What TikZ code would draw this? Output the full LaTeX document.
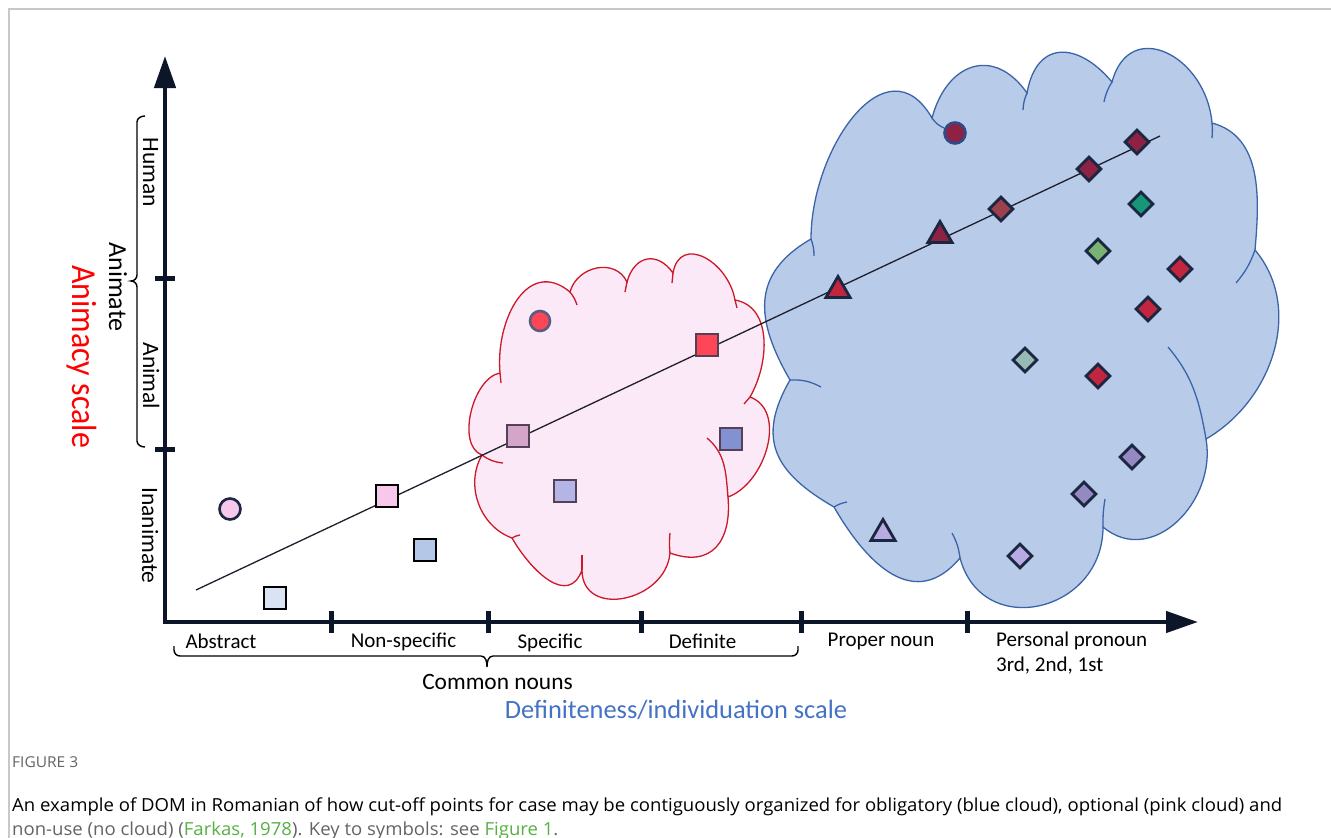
\documentclass[tikz,border=0pt]{standalone}
\usepackage{fontspec}
\usepackage{graphicx}
\setmainfont{Carlito}
\newfontfamily\capfont[FakeStretch=0.85]{Open Sans}
\usetikzlibrary{arrows.meta,shapes.geometric}
\definecolor{axisc}{RGB}{12,22,40}
\definecolor{framegray}{RGB}{200,200,200}
\definecolor{bluefill}{RGB}{184,203,232}
\definecolor{blueline}{RGB}{59,100,168}
\definecolor{pinkfill}{RGB}{251,233,247}
\definecolor{pinkline}{RGB}{204,24,40}
\definecolor{navy}{RGB}{27,38,64}
\definecolor{pinkstroke}{RGB}{85,65,85}
\definecolor{capgray}{RGB}{100,100,100}
\definecolor{capgreen}{RGB}{86,176,66}
\definecolor{defblue}{RGB}{68,114,196}
\definecolor{cPink}{RGB}{247,200,236}
\definecolor{cPale}{RGB}{218,227,243}
\definecolor{cLightBlue}{RGB}{180,199,231}
\definecolor{cRedBright}{RGB}{255,70,86}
\definecolor{cMauve}{RGB}{212,165,201}
\definecolor{cPeri}{RGB}{131,145,210}
\definecolor{cLav}{RGB}{180,181,230}
\definecolor{cDark}{RGB}{141,34,69}
\definecolor{cBrown}{RGB}{155,64,79}
\definecolor{cTeal}{RGB}{23,151,122}
\definecolor{cGreen}{RGB}{121,179,116}
\definecolor{cCrimson}{RGB}{194,37,63}
\definecolor{cGrayTeal}{RGB}{150,186,180}
\definecolor{cPurple}{RGB}{148,137,192}
\definecolor{cLilac}{RGB}{183,171,226}
\newsavebox\capboxA
\newlength\capw
\tikzset{
  axisline/.style={draw=axisc, line width=4.5pt},
  tickmark/.style={draw=axisc, line width=5pt},
  bracepath/.style={draw=black, line width=1.4pt},
  lbl/.style={font=\fontsize{21}{25}\selectfont, inner sep=0pt},
  grouplbl/.style={font=\fontsize{23.4}{28}\selectfont, inner sep=0pt},
  vlbl/.style={font=\fontsize{23.5}{28}\selectfont, inner sep=0pt, rotate=-90, anchor=base},
  bluecloud/.style={fill=bluefill, draw=blueline, line width=1.3pt},
  pinkcloud/.style={fill=pinkfill, draw=pinkline, line width=1.3pt},
  bluehook/.style={draw=blueline, line width=1.3pt},
  pinkhook/.style={draw=pinkline, line width=1.3pt},
  trend/.style={draw={rgb,255:red,30;green,30;blue,45}, line width=1.3pt},
  sqb/.style={rectangle, draw=black, line width=2.8pt, minimum size=22pt, inner sep=0pt},
  sqp/.style={rectangle, draw=pinkstroke, line width=2.8pt, minimum size=22pt, inner sep=0pt},
  dia/.style={diamond, draw=navy, line width=2.8pt, minimum width=25pt, minimum height=25pt, inner sep=0pt},
  tri/.style={regular polygon, regular polygon sides=3, draw=navy, line width=2.8pt, minimum size=28pt, inner sep=0pt},
  dot/.style={circle, line width=2.6pt, minimum size=21pt, inner sep=0pt},
  capt/.style={inner sep=0pt, anchor=base west, text=capgray}
}
\begin{document}
\sbox\capboxA{\capfont\fontsize{18}{22}\selectfont An example of DOM in Romanian of how cut-off points for case may be contiguously organized for obligatory (blue cloud), optional (pink cloud) and}%
\setlength\capw{\wd\capboxA}%
\pgfmathsetmacro\capscale{1270/\capw}%
\begin{tikzpicture}[x=1pt,y=1pt]
\useasboundingbox (0,-838) rectangle (1331,0);
\fill[white] (0,-838) rectangle (1331,0);
\draw[draw=framegray, line width=1.5pt] (9,-838) -- (9,-9) -- (1331,-9);

% ---------- blue cloud ----------
\coordinate (J1) at (811,-239);
\coordinate (J2) at (932,-118);
\coordinate (J3) at (1027,-93);
\coordinate (J4) at (1112,-82);
\coordinate (J5) at (1212,-123);
\coordinate (J6) at (1255,-250);
\coordinate (J7) at (1206,-439);
\coordinate (J8) at (1103,-527);
\coordinate (J9) at (960,-558);
\coordinate (J10) at (834,-507);
\coordinate (J11) at (790,-380);
\path[bluecloud] (J1) to[out=90,in=120,looseness=1.35] (J2)
  to[out=75,in=125,looseness=1.5] (J3)
  to[out=80,in=130,looseness=1.6] (J4)
  to[out=75,in=95,looseness=1.6] (J5)
  to[out=-15,in=85] (J6)
  to[out=-50,in=30] (J7)
  to[out=-80,in=-40,looseness=1.2] (J8)
  to[out=-90,in=-75,looseness=1.5] (J9)
  to[out=-130,in=-60,looseness=1.3] (J10)
  to[out=150,in=-120,looseness=1.3] (J11)
  to[out=120,in=-150,looseness=1.25] (J1) -- cycle;
\coordinate (H1) at (814,-256);
\coordinate (H2) at (944,-128);
\coordinate (H3) at (1023,-110);
\coordinate (H4) at (1104,-102);
\coordinate (H5) at (1212,-138);
\coordinate (H6) at (1236,-283);
\coordinate (H7) at (1168,-347);
\coordinate (H8) at (1105,-499);
\coordinate (H9) at (952,-533);
\coordinate (H10) at (847,-502);
\coordinate (H11) at (821,-387);
\draw[bluehook] (J1) to[bend left=10] (H1);
\draw[bluehook] (J2) to[bend right=15] (H2);
\draw[bluehook] (J3) to[bend right=10] (H3);
\draw[bluehook] (J4) to[bend right=10] (H4);
\draw[bluehook] (J5) to[bend left=5] (H5);
\draw[bluehook] (J6) to[bend left=10] (H6);
\draw[bluehook] (J7) to[out=100,in=-50] (H7);
\draw[bluehook] (J8) to[bend left=5] (H8);
\draw[bluehook] (J9) to[bend right=10] (H9);
\draw[bluehook] (J10) to[bend left=10] (H10);
\draw[bluehook] (J11) to[bend left=15] (H11);

% ---------- pink cloud ----------
\coordinate (P1) at (500,-373);
\coordinate (P2) at (570,-292);
\coordinate (P3) at (627,-282);
\coordinate (P4) at (673,-273);
\coordinate (P5) at (735,-300);
\coordinate (P6) at (750,-397);
\coordinate (P7) at (728,-497);
\coordinate (P8) at (670,-553);
\coordinate (P9) at (582,-570);
\coordinate (P10) at (512,-538);
\coordinate (P11) at (482,-455);
\path[pinkcloud] (P1) to[out=95,in=140,looseness=1.3] (P2)
  to[out=75,in=115,looseness=1.2] (P3)
  to[out=75,in=125,looseness=1.5] (P4)
  to[out=80,in=100,looseness=1.5] (P5)
  to[out=-10,in=60] (P6)
  to[out=-20,in=20] (P7)
  to[out=-85,in=-20,looseness=1.4] (P8)
  to[out=-95,in=-90,looseness=1.4] (P9)
  to[out=-110,in=-60,looseness=1.3] (P10)
  to[out=160,in=-120] (P11)
  to[out=160,in=-170,looseness=0.85] (P1) -- cycle;
\coordinate (Q1) at (501,-383);
\coordinate (Q2) at (577,-305);
\coordinate (Q3) at (625,-292);
\coordinate (Q4) at (672,-283);
\coordinate (Q5) at (737,-308);
\coordinate (Q6) at (744,-404);
\coordinate (Q7) at (707,-438);
\coordinate (Q8) at (670,-533);
\coordinate (Q9) at (582,-555);
\coordinate (Q10) at (520,-535);
\coordinate (Q11) at (503,-463);
\draw[pinkhook] (P1) -- (Q1);
\draw[pinkhook] (P2) to[bend left=10] (Q2);
\draw[pinkhook] (P3) -- (Q3);
\draw[pinkhook] (P4) -- (Q4);
\draw[pinkhook] (P5) -- (Q5);
\draw[pinkhook] (P6) -- (Q6);
\draw[pinkhook] (P7) to[out=95,in=-40] (Q7);
\draw[pinkhook] (P8) to[bend left=5] (Q8);
\draw[pinkhook] (P9) -- (Q9);
\draw[pinkhook] (P10) to[bend left=10] (Q10);
\draw[pinkhook] (P11) to[bend right=15] (Q11);

% ---------- trend line ----------
\coordinate (ls) at (196,-590);
\coordinate (le) at (1160,-136);
\draw[trend] (ls) -- (le);

% ---------- symbols outside clouds ----------
\node[dot, draw=navy, fill=cPink] (o1) at (230,-509) {};
\node[sqb, fill=cPale] (s1) at (275,-598) {};
\node[sqb, fill=cPink] (s2) at (387,-496) {};
\node[sqb, fill=cLightBlue] (s3) at (425,-550) {};
% ---------- symbols in pink cloud ----------
\node[dot, draw={rgb,255:red,90;green,92;blue,128}, fill=cRedBright, minimum size=20pt] (o2) at (540,-321) {};
\node[sqp, fill=cMauve] (s4) at (518,-436) {};
\node[sqp, fill=cRedBright] (s5) at (707,-345) {};
\node[sqp, fill=cPeri] (s6) at (731,-439) {};
\node[sqp, fill=cLav] (s7) at (565,-491) {};
% ---------- symbols in blue cloud ----------
\node[dot, draw={rgb,255:red,45;green,75;blue,135}, fill=cDark] (o3) at (955,-133) {};
\node[tri, fill=cCrimson] (t1) at (838,-290.5) {};
\node[tri, fill=cDark] (t2) at (940,-235.5) {};
\node[tri, fill=cLilac] (t3) at (883,-533.5) {};
\node[dia, fill=cBrown] (d1) at (1001,-209) {};
\node[dia, fill=cDark] (d2) at (1089,-169) {};
\node[dia, fill=cDark] (d3) at (1137,-142) {};
\node[dia, fill=cTeal] (d4) at (1141,-204) {};
\node[dia, fill=cGreen] (d5) at (1098,-251) {};
\node[dia, fill=cCrimson] (d6) at (1180,-269) {};
\node[dia, fill=cCrimson] (d7) at (1148,-309) {};
\node[dia, fill=cGrayTeal] (d8) at (1025,-360) {};
\node[dia, fill=cCrimson] (d9) at (1098,-376) {};
\node[dia, fill=cPurple] (d10) at (1132,-457) {};
\node[dia, fill=cPurple] (d11) at (1084,-494) {};
\node[dia, fill=cLilac] (d12) at (1020,-556) {};

% ---------- axes ----------
\coordinate (O) at (165,-622);
\coordinate (ytop) at (165,-56);
\coordinate (xend) at (1198,-622);
\draw[axisline, line join=miter, {Triangle[length=32pt,width=21pt]}-{Triangle[length=32pt,width=21pt]}] (ytop) -- (O) -- (xend);
\draw[tickmark] (155,-278) -- (175,-278);
\draw[tickmark] (155,-449) -- (175,-449);
\foreach \tx in {331,488,641,801,967} {\draw[tickmark] (\tx,-611) -- (\tx,-633);}

% ---------- braces ----------
\draw[bracepath] (145,-116) to[out=180,in=90] (137,-122) -- (137,-275) to[out=-90,in=0] (131,-281) to[out=0,in=90] (137,-287) -- (137,-441) to[out=-90,in=180] (145,-447);
\draw[bracepath] (174,-646) -- (174,-650) to[out=-90,in=180] (180,-656) -- (481,-656) to[out=0,in=90] (487,-667) to[out=90,in=180] (493,-656) -- (792,-656) to[out=0,in=-90] (798,-650) -- (798,-646);

% ---------- labels ----------
\node[vlbl] (hum) at (143,-172.5) {Human};
\node[vlbl] (anl) at (143,-376) {Animal};
\node[vlbl] (inan) at (142,-535.5) {Inanimate};
\node[vlbl, font=\fontsize{26}{30}\selectfont] (anim) at (109,-287) {Animate};
\node[vlbl, font=\fontsize{35}{40}\selectfont, text=red] (ascale) at (72,-356.5) {\resizebox{183pt}{\height}{Animacy scale}};

\node[lbl, anchor=base] (abs) at (221,-648) {Abstract};
\node[lbl, anchor=base] (nsp) at (403.5,-647) {Non-specific};
\node[lbl, anchor=base] (spc) at (550,-648) {Specific};
\node[lbl, anchor=base] (dfn) at (702.5,-648) {Definite};
\node[lbl, anchor=base] (prp) at (881,-646) {Proper noun};
\node[lbl, anchor=base west] (pp1) at (996,-646) {Personal pronoun};
\node[lbl, anchor=base west] (pp2) at (996,-671.5) {3rd, 2nd, 1st};
\node[grouplbl, anchor=base] (cn) at (497.5,-689.3) {Common nouns};
\node[inner sep=0pt, anchor=base, text=defblue, font=\fontsize{26.4}{30}\selectfont] (dscale) at (676,-718.3) {Definiteness/individuation scale};

% ---------- caption ----------
\node[capt, font=\capfont\fontsize{15}{18}\selectfont] (fig) at (12,-767) {\resizebox{66pt}{\height}{FIGURE 3}};
\node[capt] (cap1) at (12,-811) {\scalebox{\capscale}[1]{\usebox\capboxA}};
\node[capt, font=\capfont\fontsize{18}{22}\selectfont] (cap2) at (12,-835) {\scalebox{\capscale}[1]{non-use (no cloud) (\textcolor{capgreen}{Farkas, 1978}). Key to symbols: see \textcolor{capgreen}{Figure 1}.}};
\end{tikzpicture}
\end{document}
